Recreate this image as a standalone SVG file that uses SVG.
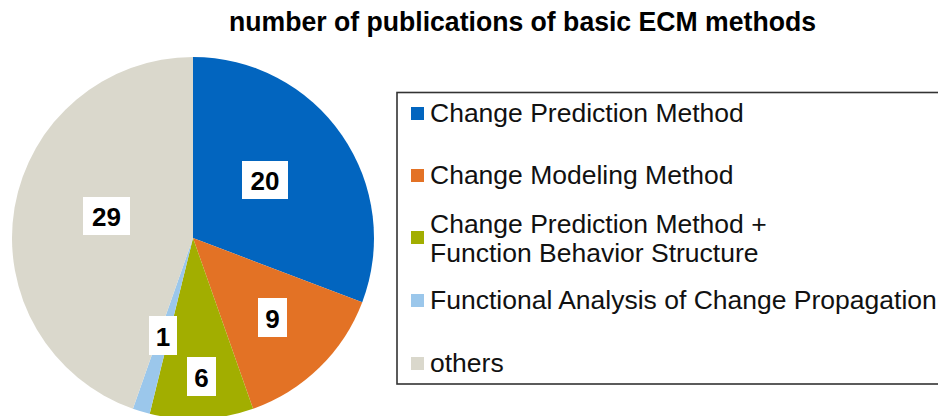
<svg xmlns="http://www.w3.org/2000/svg" width="938" height="416" viewBox="0 0 938 416">
<style>
.title{font-family:"Liberation Sans",Arial,sans-serif;font-weight:bold;font-size:28px;fill:#000}
.lbl{font-family:"Liberation Sans",Arial,sans-serif;font-weight:bold;font-size:26px;fill:#000;text-anchor:middle;dominant-baseline:central}
.lbox{fill:#fff}
.leg{font-family:"Liberation Sans",Arial,sans-serif;font-size:26.5px;fill:#111}
</style>
<rect x="0" y="0" width="938" height="416" fill="#fff"/>
<text class="title" x="229" y="31" textLength="587" lengthAdjust="spacingAndGlyphs">number of publications of basic ECM methods</text>
<g id="pie">
<g id="slice-cpm"><path d="M193,238 L193,57 A181,181 0 0 1 362.24,302.18 Z" fill="#0265BF"/></g>
<g id="slice-cmm"><path d="M193,238 L362.24,302.18 A181,181 0 0 1 253.08,408.74 Z" fill="#E37225"/></g>
<g id="slice-cpm-fbs"><path d="M193,238 L253.08,408.74 A181,181 0 0 1 149.68,413.74 Z" fill="#A2AE00"/></g>
<g id="slice-facp"><path d="M193,238 L149.68,413.74 A181,181 0 0 1 132.92,408.74 Z" fill="#9BC7EB"/></g>
<g id="slice-others"><path d="M193,238 L132.92,408.74 A181,181 0 0 1 193,57 Z" fill="#DAD8CC"/></g>
</g>
<g id="labels">
<g id="lbl-20"><rect class="lbox" x="242" y="161" width="46" height="38"/><text class="lbl" x="265" y="181">20</text></g>
<g id="lbl-29"><rect class="lbox" x="83" y="197" width="47" height="38"/><text class="lbl" x="106.5" y="217">29</text></g>
<g id="lbl-9"><rect class="lbox" x="258" y="298" width="29" height="39"/><text class="lbl" x="272.5" y="318.5">9</text></g>
<g id="lbl-1"><rect class="lbox" x="149" y="316" width="28" height="39"/><text class="lbl" x="163" y="336.5">1</text></g>
<g id="lbl-6"><rect class="lbox" x="187" y="357" width="29" height="39"/><text class="lbl" x="201.5" y="377.5">6</text></g>
</g>
<g id="legend">
<rect x="397" y="92.5" width="600" height="291.5" fill="#fff" stroke="#333" stroke-width="1.6"/>
<g id="leg-cpm"><rect x="411" y="107" width="13" height="13" fill="#0265BF"/><text class="leg" x="430" y="121.5">Change Prediction Method</text></g>
<g id="leg-cmm"><rect x="411" y="169" width="13" height="13" fill="#E37225"/><text class="leg" x="430" y="183.5">Change Modeling Method</text></g>
<g id="leg-cpm-fbs"><rect x="411" y="231" width="13" height="13" fill="#A2AE00"/><text class="leg" x="430" y="232.5">Change Prediction Method +</text><text class="leg" x="430" y="262">Function Behavior Structure</text></g>
<g id="leg-facp"><rect x="411" y="294" width="13" height="13" fill="#9BC7EB"/><text class="leg" x="430" y="308.5">Functional Analysis of Change Propagation</text></g>
<g id="leg-others"><rect x="411" y="357" width="13" height="13" fill="#DAD8CC"/><text class="leg" x="430" y="372">others</text></g>
</g>
</svg>
